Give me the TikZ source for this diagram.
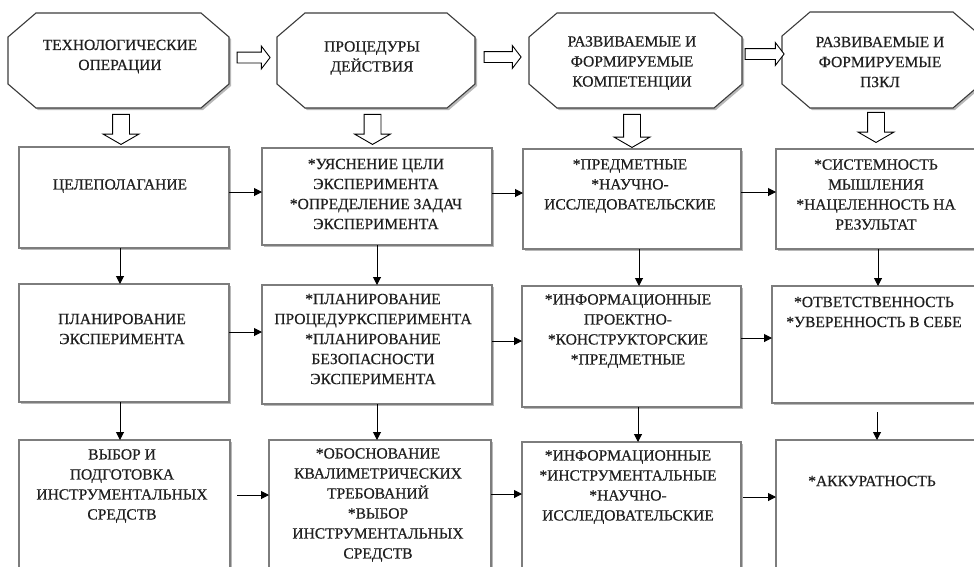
\documentclass[tikz,border=0pt]{standalone}
\usepackage{fontspec}
\setmainfont{Liberation Serif}
\newfontfamily\diagfont{Liberation Serif}[FakeBold=0.5]
\usetikzlibrary{shadows,shapes.arrows,arrows.meta}
\definecolor{boxgray}{RGB}{125,125,125}
\definecolor{octgray}{RGB}{60,60,60}
% octagon: name, cx, cy, width, height
\newcommand\octnode[5]{%
  \node[inner sep=0pt, outer sep=0pt, minimum width=#4pt, minimum height=#5pt] (#1) at (#2,#3) {};
  \draw[octline] ([xshift=28pt]#1.north west) -- ([xshift=-28pt]#1.north east)
    -- ([yshift=-24pt]#1.north east) -- ([yshift=24pt]#1.south east)
    -- ([xshift=-28pt]#1.south east) -- ([xshift=28pt]#1.south west)
    -- ([yshift=24pt]#1.south west) -- ([yshift=-24pt]#1.north west) -- cycle;
}
\begin{document}
\begin{tikzpicture}[x=1pt,y=-1pt,
  box/.style={draw=boxgray, line width=1.1pt, fill=white, inner sep=0pt, outer sep=0pt,
    drop shadow={shadow xshift=2pt, shadow yshift=-2pt, fill=black!28, opacity=1}},
  octline/.style={draw=octgray, line width=1.1pt, fill=white, line join=miter,
    drop shadow={shadow xshift=2pt, shadow yshift=-2pt, fill=black!28, opacity=1}},
  txt/.style={align=center, font=\diagfont\fontsize{15.5}{20}\selectfont, inner sep=0pt, text=black!88},
  arr/.style={-{Triangle[length=8pt,width=8pt]}, line width=1pt, black},
  harrow/.style={single arrow, draw=black, fill=white, line width=0.9pt, inner sep=5pt,
    single arrow head extend=6pt, single arrow tip angle=105},
  darrow/.style={single arrow, draw=black, fill=white, line width=0.9pt, inner sep=8pt,
    single arrow head extend=9.5pt, single arrow tip angle=120, rotate=-90}
]
\useasboundingbox (0,0) rectangle (974,566);
\clip (0,0) rectangle (974,566);

% octagons
\octnode{o1}{118.5}{60.5}{221}{95}
\octnode{o2}{376}{60.5}{198}{95}
\octnode{o3}{635.5}{60.5}{213}{95}
\octnode{o4}{881.5}{60}{199}{96}

\node[txt] (to1) at (120,56.5) {ТЕХНОЛОГИЧЕСКИЕ\\ОПЕРАЦИИ};
\node[txt] (to2) at (372,58) {ПРОЦЕДУРЫ\\ДЕЙСТВИЯ};
\node[txt] (to3) at (632,63) {РАЗВИВАЕМЫЕ И\\ФОРМИРУЕМЫЕ\\КОМПЕТЕНЦИИ};
\node[txt] (to4) at (880,62) {РАЗВИВАЕМЫЕ И\\ФОРМИРУЕМЫЕ\\ПЗКЛ};

% block arrows
\node[harrow, minimum height=33pt] (h1) at (251.5,57.5) {};
\node[harrow, minimum height=37pt] (h2) at (500.5,57) {};
\node[harrow, minimum height=39pt] (h3) at (762.5,54) {};
\node[darrow, minimum height=30pt] (d1) at (121,127) {};
\node[darrow, minimum height=30pt] (d2) at (372.5,127) {};
\node[darrow, minimum height=33pt] (d3) at (632,128.5) {};
\node[darrow, minimum height=30pt] (d4) at (876,125) {};

% boxes
\node[box, minimum width=210pt, minimum height=101pt] (b11) at (124,197.5) {};
\node[box, minimum width=230pt, minimum height=97pt] (b12) at (377,196.5) {};
\node[box, minimum width=218pt, minimum height=100pt] (b13) at (632,199) {};
\node[box, minimum width=214pt, minimum height=100pt] (b14) at (883,199) {};
\node[box, minimum width=210pt, minimum height=118pt] (b21) at (124,343) {};
\node[box, minimum width=230pt, minimum height=119pt] (b22) at (377,344.5) {};
\node[box, minimum width=219pt, minimum height=121pt] (b23) at (631.5,346.5) {};
\node[box, minimum width=218pt, minimum height=117pt] (b24) at (881,344.5) {};
\node[box, minimum width=211pt, minimum height=160pt] (b31) at (124.5,520) {};
\node[box, minimum width=222pt, minimum height=160pt] (b32) at (380,520) {};
\node[box, minimum width=219pt, minimum height=158pt] (b33) at (631.5,521) {};
\node[box, minimum width=214pt, minimum height=160pt] (b34) at (883,520) {};

% box texts
\node[txt] (t11) at (120,186) {ЦЕЛЕПОЛАГАНИЕ};
\node[txt] (t12) at (376,194) {*УЯСНЕНИЕ ЦЕЛИ\\ЭКСПЕРИМЕНТА\\*ОПРЕДЕЛЕНИЕ ЗАДАЧ\\ЭКСПЕРИМЕНТА};
\node[txt] (t13) at (630,186) {*ПРЕДМЕТНЫЕ\\*НАУЧНО-\\ИССЛЕДОВАТЕЛЬСКИЕ};
\node[txt] (t14) at (876,194.5) {*СИСТЕМНОСТЬ\\МЫШЛЕНИЯ\\*НАЦЕЛЕННОСТЬ НА\\РЕЗУЛЬТАТ};
\node[txt] (t21) at (122,329) {ПЛАНИРОВАНИЕ\\ЭКСПЕРИМЕНТА};
\node[txt] (t22) at (373,339) {*ПЛАНИРОВАНИЕ\\ПРОЦЕДУРКСПЕРИМЕНТА\\*ПЛАНИРОВАНИЕ\\БЕЗОПАСНОСТИ\\ЭКСПЕРИМЕНТА};
\node[txt] (t23) at (628,331) {*ИНФОРМАЦИОННЫЕ\\ПРОЕКТНО-\\*КОНСТРУКТОРСКИЕ\\*ПРЕДМЕТНЫЕ};
\node[txt] (t24) at (874,312) {*ОТВЕТСТВЕННОСТЬ\\*УВЕРЕННОСТЬ В СЕБЕ};
\node[txt] (t31) at (122,486) {ВЫБОР И\\ПОДГОТОВКА\\ИНСТРУМЕНТАЛЬНЫХ\\СРЕДСТВ};
\node[txt] (t32) at (378,505) {*ОБОСНОВАНИЕ\\КВАЛИМЕТРИЧЕСКИХ\\ТРЕБОВАНИЙ\\*ВЫБОР\\ИНСТРУМЕНТАЛЬНЫХ\\СРЕДСТВ};
\node[txt] (t33) at (628,487) {*ИНФОРМАЦИОННЫЕ\\*ИНСТРУМЕНТАЛЬНЫЕ\\*НАУЧНО-\\ИССЛЕДОВАТЕЛЬСКИЕ};
\node[txt] (t34) at (872,481) {*АККУРАТНОСТЬ};

% horizontal arrows
\draw[arr] (b11.east |- 0,192) -- (b12.west |- 0,192);
\draw[arr] (b12.east |- 0,193) -- (b13.west |- 0,193);
\draw[arr] (b13.east |- 0,192) -- (b14.west |- 0,192);
\draw[arr] (b21.east |- 0,332) -- (b22.west |- 0,332);
\draw[arr] (b22.east |- 0,341) -- (b23.west |- 0,341);
\draw[arr] (b23.east |- 0,338) -- (b24.west |- 0,338);
\draw[arr, shorten <=7pt] (b31.east |- 0,495) -- (b32.west |- 0,495);
\draw[arr] (b32.east |- 0,494) -- (b33.west |- 0,494);
\draw[arr, shorten <=2pt] (b33.east |- 0,497) -- (b34.west |- 0,497);

% vertical arrows
\draw[arr] (b11.south -| 120,0) -- (b21.north -| 120,0);
\draw[arr] (b12.south -| 377,0) -- (b22.north -| 377,0);
\draw[arr] (b13.south -| 639,0) -- (b23.north -| 639,0);
\draw[arr] (b14.south -| 878,0) -- (b24.north -| 878,0);
\draw[arr] (b21.south -| 120,0) -- (b31.north -| 120,0);
\draw[arr] (b22.south -| 377,0) -- (b32.north -| 377,0);
\draw[arr] (b23.south -| 638,0) -- (b33.north -| 638,0);
\draw[arr, shorten <=9pt] (b24.south -| 877,0) -- (b34.north -| 877,0);
\end{tikzpicture}
\end{document}
